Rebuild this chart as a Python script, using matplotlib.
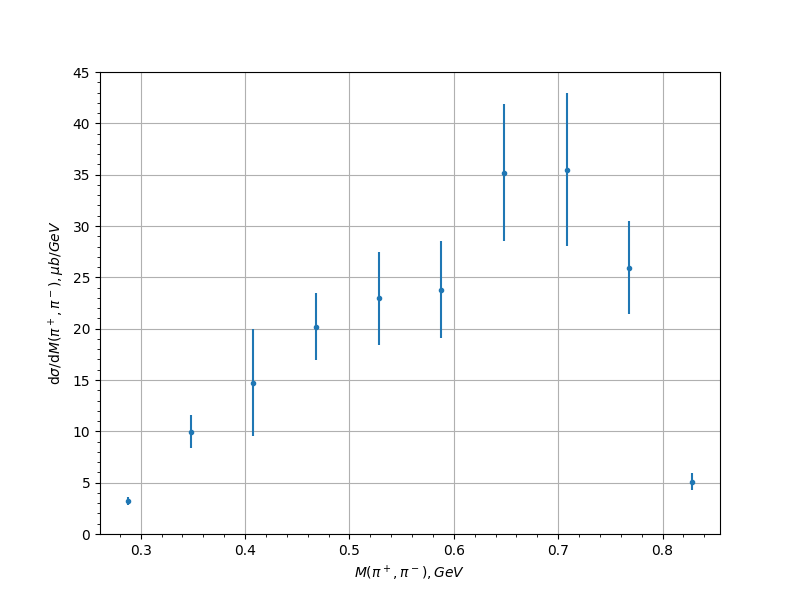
import numpy as np
import matplotlib
matplotlib.use("Agg")
import matplotlib.pyplot as plt

mass = [0.288, 0.348, 0.408, 0.468, 0.528, 0.588, 0.648, 0.708, 0.768, 0.828]
xsec = [3.2, 9.95, 14.75, 20.2, 22.95, 23.8, 35.2, 35.5, 25.95, 5.1]
err = [0.4, 1.6, 5.2, 3.25, 4.5, 4.7, 6.7, 7.45, 4.5, 0.85]


def plot_spectrum(mass, xsec, err):
    plt.figure(figsize=(8, 6), dpi=100)
    plt.errorbar(mass, xsec, yerr=err, fmt='.')
    plt.xlabel(r'$M(\pi^+,\pi^-), GeV$')
    plt.ylabel(r'd$\sigma$/d$M(\pi^+,\pi^-), \mu b/GeV$')
    plt.ylim(0, 45)
    plt.minorticks_on()
    plt.grid(True, which='major')
    plt.savefig("out.png")


if __name__ == "__main__":
    plot_spectrum(mass, xsec, err)
